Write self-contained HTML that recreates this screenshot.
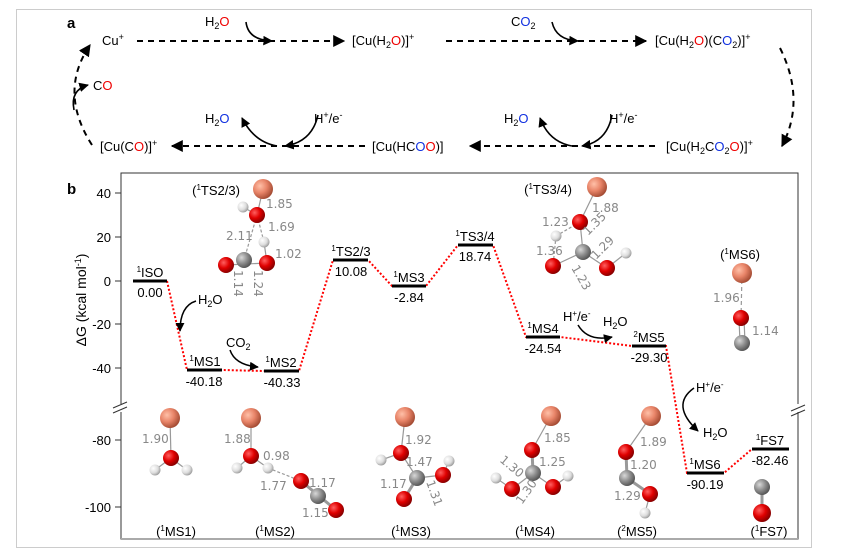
<!DOCTYPE html>
<html><head><meta charset="utf-8"><style>
html,body{margin:0;padding:0;background:#fff;}
svg{display:block;font-family:"Liberation Sans",sans-serif;}
.g{fill:#888;font-size:12px;font-family:"DejaVu Sans","Liberation Sans",sans-serif;}
.t{font-size:13px;fill:#000;}
.r{fill:#e00;}.b{fill:#1030e0;}
</style></head><body>
<svg width="845" height="556" viewBox="0 0 845 556" xmlns="http://www.w3.org/2000/svg">
<defs>
<radialGradient id="cu" cx="35%" cy="35%" r="70%"><stop offset="0" stop-color="#ffc0a8"/><stop offset="0.5" stop-color="#e88468"/><stop offset="1" stop-color="#a04830"/></radialGradient>
<radialGradient id="o" cx="35%" cy="35%" r="70%"><stop offset="0" stop-color="#ff6060"/><stop offset="0.5" stop-color="#e00000"/><stop offset="1" stop-color="#800000"/></radialGradient>
<radialGradient id="c" cx="35%" cy="35%" r="70%"><stop offset="0" stop-color="#d8d8d8"/><stop offset="0.5" stop-color="#909090"/><stop offset="1" stop-color="#505050"/></radialGradient>
<radialGradient id="h" cx="35%" cy="35%" r="70%"><stop offset="0" stop-color="#fff"/><stop offset="0.6" stop-color="#ddd"/><stop offset="1" stop-color="#999"/></radialGradient>
<marker id="ah" viewBox="0 0 10 10" refX="9" refY="5" markerWidth="6" markerHeight="6" orient="auto"><path d="M0,0L10,5L0,10z" fill="#000"/></marker>
<marker id="ah2" viewBox="0 0 10 10" refX="9" refY="5" markerWidth="6" markerHeight="6" orient="auto"><path d="M0,0L10,5L0,10z" fill="#000"/></marker>
</defs>
<rect x="16.5" y="9.5" width="795" height="538" fill="none" stroke="#ccc"/>
<!-- panel a -->
<text x="67" y="28" font-size="15" font-weight="bold">a</text>
<g class="t" font-size="13">
<text x="102" y="45">Cu<tspan dy="-5" font-size="9">+</tspan></text>
<text x="205" y="26">H<tspan dy="3" font-size="9">2</tspan><tspan dy="-3" class="r">O</tspan></text>
<text x="352" y="45">[Cu(H<tspan dy="3" font-size="9">2</tspan><tspan dy="-3" class="r">O</tspan>)]<tspan dy="-5" font-size="9">+</tspan></text>
<text x="511" y="26">C<tspan class="b">O</tspan><tspan dy="3" font-size="9">2</tspan></text>
<text x="655" y="45">[Cu(H<tspan dy="3" font-size="9">2</tspan><tspan dy="-3" class="r">O</tspan>)(C<tspan class="b">O</tspan><tspan dy="3" font-size="9">2</tspan><tspan dy="-3">)]</tspan><tspan dy="-5" font-size="9">+</tspan></text>
<text x="93" y="90">C<tspan class="r">O</tspan></text>
<text x="205" y="123">H<tspan dy="3" font-size="9">2</tspan><tspan dy="-3" class="b">O</tspan></text>
<text x="314" y="123">H<tspan dy="-5" font-size="9">+</tspan><tspan dy="5">/e</tspan><tspan dy="-5" font-size="9">-</tspan></text>
<text x="504" y="123">H<tspan dy="3" font-size="9">2</tspan><tspan dy="-3" class="b">O</tspan></text>
<text x="609" y="123">H<tspan dy="-5" font-size="9">+</tspan><tspan dy="5">/e</tspan><tspan dy="-5" font-size="9">-</tspan></text>
<text x="100" y="151">[Cu(C<tspan class="r">O</tspan>)]<tspan dy="-5" font-size="9">+</tspan></text>
<text x="372" y="151">[Cu(HC<tspan class="b">O</tspan><tspan class="r">O</tspan>)]</text>
<text x="666" y="151">[Cu(H<tspan dy="3" font-size="9">2</tspan><tspan dy="-3">C</tspan><tspan class="b">O</tspan><tspan dy="3" font-size="9">2</tspan><tspan dy="-3" class="r">O</tspan>)]<tspan dy="-5" font-size="9">+</tspan></text>
</g>
<g stroke="#000" stroke-width="2" fill="none" stroke-dasharray="6,5">
<line x1="137" y1="41" x2="344" y2="41" marker-end="url(#ah)"/>
<line x1="446" y1="41" x2="646" y2="41" marker-end="url(#ah)"/>
<path d="M780,48 Q806,100 782,146" marker-end="url(#ah)"/>
<line x1="655" y1="146" x2="470" y2="146" marker-end="url(#ah)"/>
<line x1="365" y1="146" x2="172" y2="146" marker-end="url(#ah)"/>
<path d="M92,145 Q58,92 90,45" marker-end="url(#ah)"/>
</g>
<g stroke="#000" stroke-width="1.6" fill="none">
<path d="M246,22 Q248,40 272,41" marker-end="url(#ah2)"/>
<path d="M552,22 Q556,40 578,41" marker-end="url(#ah2)"/>
<path d="M277,146 Q254,142 242,118" marker-end="url(#ah2)"/>
<path d="M318,115 Q312,142 285,146" marker-end="url(#ah2)"/>
<path d="M572,146 Q549,142 540,118" marker-end="url(#ah2)"/>
<path d="M612,115 Q607,142 582,146" marker-end="url(#ah2)"/>
<path d="M74,110 Q70,90 88,85" marker-end="url(#ah2)"/>
</g>
<!-- panel b -->
<text x="67" y="194" font-size="15" font-weight="bold">b</text>
<path d="M121,173 H798 V539 H121 Z" fill="none" stroke="#333" stroke-width="1"/>
<line x1="121" y1="539" x2="798" y2="539" stroke="#aaa" stroke-width="2"/>
<rect x="116" y="404" width="10" height="8" fill="#fff"/>
<rect x="793" y="404" width="10" height="8" fill="#fff"/>
<g stroke="#333"><line x1="113" y1="408" x2="127" y2="402"/><line x1="113" y1="413" x2="127" y2="407"/>
<line x1="791" y1="411" x2="805" y2="405"/><line x1="791" y1="416" x2="805" y2="410"/>
<line x1="115" y1="193" x2="121" y2="193"/><line x1="115" y1="237" x2="121" y2="237"/><line x1="115" y1="281" x2="121" y2="281"/><line x1="115" y1="324" x2="121" y2="324"/><line x1="115" y1="368" x2="121" y2="368"/><line x1="115" y1="440" x2="121" y2="440"/><line x1="115" y1="507" x2="121" y2="507"/></g>
<g font-size="13" text-anchor="end">
<text x="111" y="198">40</text><text x="111" y="242">20</text><text x="111" y="286">0</text><text x="111" y="329">-20</text><text x="111" y="373">-40</text><text x="111" y="445">-80</text><text x="111" y="512">-100</text></g>
<text transform="translate(86,300) rotate(-90)" font-size="14" text-anchor="middle">ΔG (kcal mol<tspan dy="-5" font-size="9">-1</tspan><tspan dy="5">)</tspan></text>
<polyline points="167,281 187,370 222,370 264,371 299,371 333,260 368,260 392,286 426,286 458,245 493,245 526,337 560,337 632,346 666,346 687,473 724,473 752,449" fill="none" stroke="#f00" stroke-width="2" stroke-dasharray="2,2"/>
<g stroke="#000" stroke-width="3">
<line x1="133" y1="281" x2="167" y2="281"/><line x1="187" y1="370" x2="222" y2="370"/><line x1="264" y1="371" x2="299" y2="371"/><line x1="333" y1="260" x2="368" y2="260"/><line x1="392" y1="286" x2="426" y2="286"/><line x1="458" y1="245" x2="493" y2="245"/><line x1="526" y1="337" x2="560" y2="337"/><line x1="632" y1="346" x2="666" y2="346"/><line x1="687" y1="473" x2="724" y2="473"/><line x1="752" y1="449" x2="789" y2="449"/></g>
<g font-size="13" text-anchor="middle">
<text x="150" y="277"><tspan font-size="8" dy="-5">1</tspan><tspan dy="5">ISO</tspan></text><text x="150" y="297">0.00</text>
<text x="205" y="366"><tspan font-size="8" dy="-5">1</tspan><tspan dy="5">MS1</tspan></text><text x="204" y="386">-40.18</text>
<text x="281" y="367"><tspan font-size="8" dy="-5">1</tspan><tspan dy="5">MS2</tspan></text><text x="282" y="387">-40.33</text>
<text x="351" y="256"><tspan font-size="8" dy="-5">1</tspan><tspan dy="5">TS2/3</tspan></text><text x="351" y="276">10.08</text>
<text x="409" y="282"><tspan font-size="8" dy="-5">1</tspan><tspan dy="5">MS3</tspan></text><text x="409" y="302">-2.84</text>
<text x="475" y="241"><tspan font-size="8" dy="-5">1</tspan><tspan dy="5">TS3/4</tspan></text><text x="475" y="261">18.74</text>
<text x="543" y="333"><tspan font-size="8" dy="-5">1</tspan><tspan dy="5">MS4</tspan></text><text x="543" y="353">-24.54</text>
<text x="649" y="342"><tspan font-size="8" dy="-5">2</tspan><tspan dy="5">MS5</tspan></text><text x="649" y="362">-29.30</text>
<text x="705" y="469"><tspan font-size="8" dy="-5">1</tspan><tspan dy="5">MS6</tspan></text><text x="705" y="489">-90.19</text>
<text x="770" y="445"><tspan font-size="8" dy="-5">1</tspan><tspan dy="5">FS7</tspan></text><text x="770" y="465">-82.46</text>
</g>
<g font-size="13">
<text x="198" y="304">H<tspan dy="3" font-size="9">2</tspan><tspan dy="-3">O</tspan></text>
<text x="226" y="347">CO<tspan dy="3" font-size="9">2</tspan></text>
<text x="563" y="321">H<tspan dy="-5" font-size="8">+</tspan><tspan dy="5">/e</tspan><tspan dy="-5" font-size="8">-</tspan></text>
<text x="603" y="326">H<tspan dy="3" font-size="9">2</tspan><tspan dy="-3">O</tspan></text>
<text x="696" y="392">H<tspan dy="-5" font-size="8">+</tspan><tspan dy="5">/e</tspan><tspan dy="-5" font-size="8">-</tspan></text>
<text x="703" y="437">H<tspan dy="3" font-size="9">2</tspan><tspan dy="-3">O</tspan></text>
</g>
<g stroke="#000" stroke-width="1.5" fill="none">
<path d="M196,301 Q180,306 180,331" marker-end="url(#ah)"/>
<path d="M230,350 Q235,365 258,367" marker-end="url(#ah)"/>
<path d="M578,325 Q588,342 612,337" marker-end="url(#ah)"/>
<path d="M694,388 Q670,405 698,431" marker-end="url(#ah)"/>
</g>
<g font-size="13" text-anchor="middle">
<text x="216" y="195">(<tspan font-size="8" dy="-5">1</tspan><tspan dy="5">TS2/3)</tspan></text>
<text x="548" y="194">(<tspan font-size="8" dy="-5">1</tspan><tspan dy="5">TS3/4)</tspan></text>
<text x="740" y="259">(<tspan font-size="8" dy="-5">1</tspan><tspan dy="5">MS6)</tspan></text>
<text x="176" y="536">(<tspan font-size="8" dy="-5">1</tspan><tspan dy="5">MS1)</tspan></text>
<text x="275" y="536">(<tspan font-size="8" dy="-5">1</tspan><tspan dy="5">MS2)</tspan></text>
<text x="411" y="536">(<tspan font-size="8" dy="-5">1</tspan><tspan dy="5">MS3)</tspan></text>
<text x="535" y="536">(<tspan font-size="8" dy="-5">1</tspan><tspan dy="5">MS4)</tspan></text>
<text x="637" y="536">(<tspan font-size="8" dy="-5">2</tspan><tspan dy="5">MS5)</tspan></text>
<text x="769" y="536">(<tspan font-size="8" dy="-5">1</tspan><tspan dy="5">FS7)</tspan></text>
</g>
<g stroke="#999" stroke-width="1.2" fill="none">
<line x1="263" y1="189" x2="257" y2="215"/><line x1="257" y1="215" x2="243" y2="207"/>
<line x1="257" y1="215" x2="244" y2="260" stroke-dasharray="3,2"/><line x1="257" y1="215" x2="264" y2="242" stroke-dasharray="3,2"/>
<line x1="264" y1="242" x2="267" y2="263"/><line x1="226" y1="265" x2="267" y2="263"/>
<line x1="597" y1="187" x2="580" y2="222"/><line x1="580" y1="222" x2="583" y2="252"/><line x1="580" y1="222" x2="556" y2="236" stroke-dasharray="3,2"/><line x1="556" y1="236" x2="553" y2="266" stroke-dasharray="3,2"/>
<line x1="553" y1="266" x2="583" y2="252"/><line x1="583" y1="252" x2="607" y2="268"/><line x1="607" y1="268" x2="626" y2="253"/>
<line x1="742" y1="273" x2="741" y2="318" stroke-dasharray="4,3"/><line x1="739" y1="318" x2="740" y2="343"/><line x1="744" y1="318" x2="745" y2="343"/>
<line x1="170" y1="418" x2="171" y2="458"/><line x1="155" y1="470" x2="171" y2="458"/><line x1="187" y1="470" x2="171" y2="458"/>
<line x1="251" y1="418" x2="251" y2="456"/><line x1="237" y1="468" x2="251" y2="456"/><line x1="268" y1="468" x2="251" y2="456"/><line x1="268" y1="468" x2="301" y2="481" stroke-dasharray="3,2"/><line x1="301" y1="481" x2="336" y2="510" stroke-width="3"/>
<line x1="405" y1="417" x2="401" y2="453"/><line x1="381" y1="460" x2="401" y2="453"/><line x1="401" y1="453" x2="417" y2="478"/><line x1="417" y1="478" x2="443" y2="475"/><line x1="443" y1="475" x2="449" y2="461"/><line x1="417" y1="478" x2="404" y2="499" stroke-width="3"/>
<line x1="551" y1="416" x2="532" y2="450"/><line x1="532" y1="450" x2="533" y2="473" stroke-width="3"/><line x1="533" y1="473" x2="512" y2="489"/><line x1="533" y1="473" x2="553" y2="487"/><line x1="512" y1="489" x2="496" y2="478"/><line x1="553" y1="487" x2="568" y2="476"/>
<line x1="651" y1="416" x2="626" y2="452"/><line x1="626" y1="452" x2="627" y2="478" stroke-width="3"/><line x1="627" y1="478" x2="650" y2="494" stroke-width="3"/><line x1="650" y1="494" x2="645" y2="513"/>
<line x1="762" y1="487" x2="762" y2="513" stroke-width="3"/>
</g>
<g>
<circle cx="263" cy="189" r="10" fill="url(#cu)"/><circle cx="243" cy="207" r="5.5" fill="url(#h)"/><circle cx="257" cy="215" r="8" fill="url(#o)"/><circle cx="264" cy="242" r="5.5" fill="url(#h)"/><circle cx="226" cy="265" r="8" fill="url(#o)"/><circle cx="244" cy="260" r="8" fill="url(#c)"/><circle cx="267" cy="263" r="8" fill="url(#o)"/>
<circle cx="597" cy="187" r="10" fill="url(#cu)"/><circle cx="580" cy="222" r="8" fill="url(#o)"/><circle cx="556" cy="236" r="5.5" fill="url(#h)"/><circle cx="583" cy="252" r="8" fill="url(#c)"/><circle cx="553" cy="266" r="8" fill="url(#o)"/><circle cx="607" cy="268" r="8" fill="url(#o)"/><circle cx="626" cy="253" r="5.5" fill="url(#h)"/>
<circle cx="742" cy="273" r="10" fill="url(#cu)"/><circle cx="741" cy="318" r="8" fill="url(#o)"/><circle cx="742" cy="343" r="8" fill="url(#c)"/>
<circle cx="170" cy="418" r="10" fill="url(#cu)"/><circle cx="171" cy="458" r="8" fill="url(#o)"/><circle cx="155" cy="470" r="5.5" fill="url(#h)"/><circle cx="187" cy="470" r="5.5" fill="url(#h)"/>
<circle cx="251" cy="418" r="10" fill="url(#cu)"/><circle cx="251" cy="456" r="8" fill="url(#o)"/><circle cx="237" cy="468" r="5.5" fill="url(#h)"/><circle cx="268" cy="468" r="5.5" fill="url(#h)"/><circle cx="301" cy="481" r="8" fill="url(#o)"/><circle cx="318" cy="496" r="8" fill="url(#c)"/><circle cx="336" cy="510" r="8" fill="url(#o)"/>
<circle cx="405" cy="417" r="10" fill="url(#cu)"/><circle cx="381" cy="460" r="5.5" fill="url(#h)"/><circle cx="401" cy="453" r="8" fill="url(#o)"/><circle cx="449" cy="461" r="5.5" fill="url(#h)"/><circle cx="417" cy="478" r="8" fill="url(#c)"/><circle cx="443" cy="475" r="8" fill="url(#o)"/><circle cx="404" cy="499" r="8" fill="url(#o)"/>
<circle cx="551" cy="416" r="10" fill="url(#cu)"/><circle cx="532" cy="450" r="8" fill="url(#o)"/><circle cx="533" cy="473" r="8" fill="url(#c)"/><circle cx="496" cy="478" r="5.5" fill="url(#h)"/><circle cx="568" cy="476" r="5.5" fill="url(#h)"/><circle cx="512" cy="489" r="8" fill="url(#o)"/><circle cx="553" cy="487" r="8" fill="url(#o)"/>
<circle cx="651" cy="416" r="10" fill="url(#cu)"/><circle cx="626" cy="452" r="8" fill="url(#o)"/><circle cx="627" cy="478" r="8" fill="url(#c)"/><circle cx="645" cy="513" r="5.5" fill="url(#h)"/><circle cx="650" cy="494" r="8" fill="url(#o)"/>
<circle cx="762" cy="487" r="8" fill="url(#c)"/><circle cx="762" cy="513" r="9" fill="url(#o)"/>
</g>
<g class="g">
<text x="266" y="208">1.85</text><text x="268" y="231">1.69</text><text x="226" y="240">2.11</text><text x="275" y="258">1.02</text>
<text transform="translate(234,270) rotate(90)">1.14</text><text transform="translate(254,270) rotate(90)">1.24</text>
<text x="592" y="212">1.88</text><text x="542" y="226">1.23</text><text x="536" y="255">1.36</text>
<text transform="translate(588,236) rotate(-45)">1.35</text><text transform="translate(596,260) rotate(-45)">1.29</text><text transform="translate(571,268) rotate(60)">1.23</text>
<text x="713" y="302">1.96</text><text x="752" y="335">1.14</text>
<text x="142" y="443">1.90</text><text x="224" y="443">1.88</text><text x="263" y="460">0.98</text><text x="260" y="490">1.77</text><text x="309" y="487">1.17</text><text x="302" y="517">1.15</text>
<text x="405" y="444">1.92</text><text x="406" y="466">1.47</text><text x="380" y="488">1.17</text><text transform="translate(426,482) rotate(70)">1.31</text>
<text x="544" y="442">1.85</text><text x="539" y="466">1.25</text><text transform="translate(499,461) rotate(40)">1.30</text><text transform="translate(522,505) rotate(-55)">1.30</text>
<text x="640" y="446">1.89</text><text x="630" y="469">1.20</text><text x="614" y="500">1.29</text>
</g>
</svg>
</body></html>
